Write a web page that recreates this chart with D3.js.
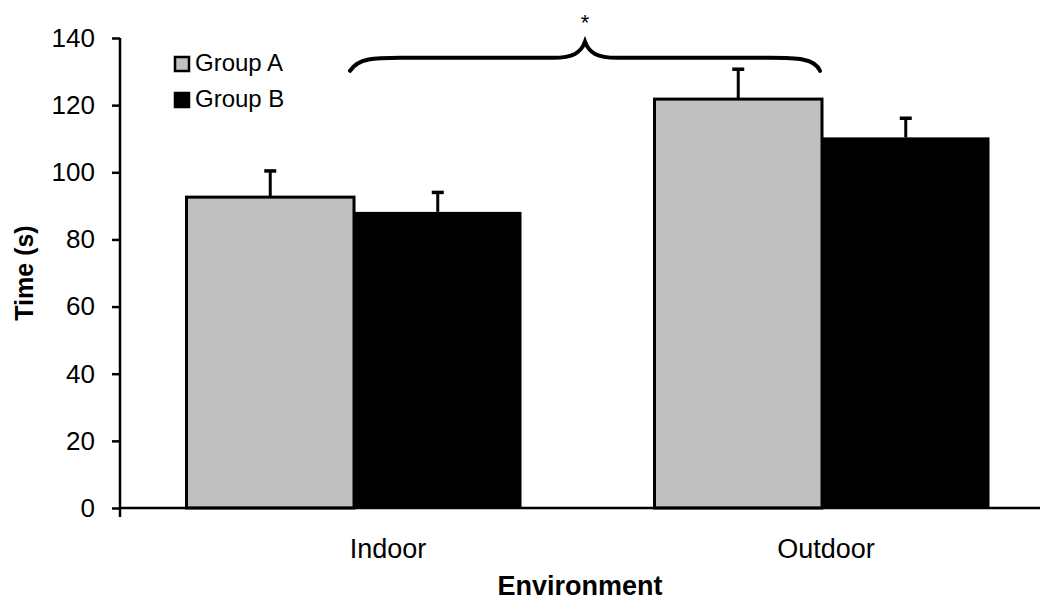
<!DOCTYPE html>
<html>
<head>
<meta charset="utf-8">
<script src="https://cdn.jsdelivr.net/npm/d3@7"></script>
<style>
  body { margin: 0; background: #fff; }
  svg { display: block; font-family: "Liberation Sans", Arial, sans-serif; }
</style>
</head>
<body>
<svg id="chart" width="1040" height="601"></svg>
<script>
const categories = ["Indoor", "Outdoor"];
const groups = ["Group A", "Group B"];
const means = { "Group A": [92.6, 121.8], "Group B": [88.2, 110.4] };
const errors = { "Group A": [7.8, 8.9], "Group B": [5.8, 5.7] };
const yTicks = [0, 20, 40, 60, 80, 100, 120, 140];
// significance brace between categories (in data units)
const brace = { from: "Indoor", to: "Outdoor", ends: 130.2, line: 134.1, peak: 138.9, label: "*" };

const colors = { "Group A": "#c0c0c0", "Group B": "#000000" };

const svg = d3.select("#chart");
const plotLeft = 120, plotBottom = 508, plotTop = 38;

const y = d3.scaleLinear().domain([0, 140]).range([plotBottom, plotTop]);
const x0 = d3.scaleBand().domain(categories).range([plotLeft, 1056]);
const x1 = d3.scaleBand().domain(groups).range([0, x0.bandwidth()]).paddingOuter(0.397);

const rows = [];
categories.forEach((c, i) => {
  groups.forEach((g) => rows.push({ cat: c, group: g, value: means[g][i], err: errors[g][i] }));
});

// bars
svg.selectAll(".bar")
  .data(rows)
  .join("rect")
  .attr("class", "bar")
  .attr("x", (d) => x0(d.cat) + x1(d.group))
  .attr("y", (d) => y(d.value))
  .attr("width", x1.bandwidth())
  .attr("height", (d) => y(0) - y(d.value))
  .attr("fill", (d) => colors[d.group])
  .attr("stroke", "#000")
  .attr("stroke-width", (d) => (d.group === "Group A" ? 3 : 0));

// error bars (upper only)
const cx = (d) => x0(d.cat) + x1(d.group) + x1.bandwidth() / 2;
svg.selectAll(".err")
  .data(rows)
  .join("line")
  .attr("class", "err")
  .attr("x1", cx).attr("x2", cx)
  .attr("y1", (d) => y(d.value))
  .attr("y2", (d) => y(d.value + d.err))
  .attr("stroke", "#000")
  .attr("stroke-width", 3);
svg.selectAll(".cap")
  .data(rows)
  .join("line")
  .attr("class", "cap")
  .attr("x1", (d) => cx(d) - 6).attr("x2", (d) => cx(d) + 6)
  .attr("y1", (d) => y(d.value + d.err))
  .attr("y2", (d) => y(d.value + d.err))
  .attr("stroke", "#000")
  .attr("stroke-width", 3.5);

// y axis
const yAxis = svg.append("g")
  .attr("transform", `translate(${plotLeft},0)`)
  .call(d3.axisLeft(y).tickValues(yTicks).tickSize(8).tickPadding(17));
yAxis.select(".domain").remove();
yAxis.selectAll(".tick line").attr("stroke-width", 2.5);
yAxis.selectAll("text").style("font-size", "26px").attr("fill", "#000");
svg.append("line")
  .attr("x1", plotLeft).attr("x2", plotLeft)
  .attr("y1", y(140)).attr("y2", plotBottom + 9)
  .attr("stroke", "#000").attr("stroke-width", 2.5);

// x axis
svg.append("line")
  .attr("x1", plotLeft).attr("x2", 1040)
  .attr("y1", plotBottom).attr("y2", plotBottom)
  .attr("stroke", "#000").attr("stroke-width", 2.5);
svg.selectAll(".xlab")
  .data(categories)
  .join("text")
  .attr("class", "xlab")
  .attr("x", (d, i) => x0(d) + x0.bandwidth() / 2 + (i === 0 ? 34 : 4))
  .attr("y", 558)
  .attr("text-anchor", "middle")
  .style("font-size", "27px")
  .text((d) => d);

// axis titles
svg.append("text")
  .attr("x", (plotLeft + 1040) / 2)
  .attr("y", 595)
  .attr("text-anchor", "middle")
  .style("font-size", "27px")
  .style("font-weight", "bold")
  .text("Environment");
svg.append("text")
  .attr("transform", `translate(33,${(plotTop + plotBottom) / 2}) rotate(-90)`)
  .attr("text-anchor", "middle")
  .style("font-size", "25px")
  .style("font-weight", "bold")
  .text("Time (s)");

// legend
const legend = svg.selectAll(".leg")
  .data(groups)
  .join("g")
  .attr("class", "leg")
  .attr("transform", (d, i) => `translate(175,${57 + i * 36})`);
legend.append("rect")
  .attr("width", 14).attr("height", 14)
  .attr("fill", (d) => colors[d])
  .attr("stroke", "#000")
  .attr("stroke-width", 2.5);
legend.append("text")
  .attr("x", 20).attr("y", 14)
  .style("font-size", "24px")
  .text((d) => d);

// brace
const bx1 = x0(brace.from) + x0.bandwidth() / 2 - 4;
const bx2 = x0(brace.to) + x0.bandwidth() / 2 - 2;
const bm = (bx1 + bx2) / 2;
const ye = y(brace.ends), yl = y(brace.line), yp = y(brace.peak);
const bracePath = d3.path();
bracePath.moveTo(bx1, ye);
bracePath.bezierCurveTo(bx1 + 8, yl, bx1 + 25, yl, bx1 + 50, yl);
bracePath.lineTo(bm - 32, yl);
bracePath.bezierCurveTo(bm - 12, yl, bm - 4, yl - 5, bm, yp);
bracePath.bezierCurveTo(bm + 4, yl - 5, bm + 12, yl, bm + 32, yl);
bracePath.lineTo(bx2 - 50, yl);
bracePath.bezierCurveTo(bx2 - 25, yl, bx2 - 5, yl, bx2, ye);
svg.append("path")
  .attr("d", bracePath.toString())
  .attr("fill", "none")
  .attr("stroke", "#000")
  .attr("stroke-width", 4)
  .attr("stroke-linecap", "round");
svg.append("text")
  .attr("x", bm)
  .attr("y", 30)
  .attr("text-anchor", "middle")
  .style("font-size", "22px")
  .text(brace.label);
</script>
</body>
</html>
